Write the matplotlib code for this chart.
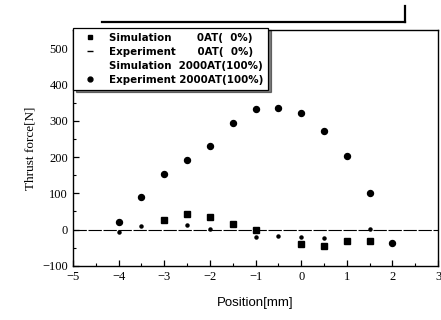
import numpy as np
import matplotlib.pyplot as plt
from matplotlib.lines import Line2D

# data
pos_sim0 = [-3, -2.5, -2, -1.5, -1, 0, 0.5, 1, 1.5]
sim0 = [27, 42, 36, 16, 0, -39, -44, -31, -31]

pos_exp0 = [-4, -3.5, -2.5, -2, -1, -0.5, 0, 0.5, 1.5]
exp0 = [-6, 9, 12, 3, -20, -17, -19, -22, 1]

pos_sim100 = []
sim100 = []

pos_exp100 = [-4, -3.5, -3, -2.5, -2, -1.5, -1, -0.5, 0, 0.5, 1, 1.5, 2]
exp100 = [21, 90, 154, 192, 231, 295, 333, 336, 322, 272, 204, 102, -38]

fig = plt.figure(figsize=(4.41, 3.2), dpi=100)
ax = fig.add_axes([0.1655, 0.169, 0.828, 0.737])

ax.plot(pos_sim0, sim0, 's', color='black', ms=4.2, ls='none')
ax.plot(pos_exp0, exp0, 'o', color='black', ms=2.2, ls='none')
ax.plot(pos_sim100, sim100, ls='none')
ax.plot(pos_exp100, exp100, 'o', color='black', ms=4.3, ls='none')

ax.axhline(0, color='black', lw=0.8, dashes=(12, 1.5))

ax.set_xlim(-5, 3)
ax.set_ylim(-100, 550)
ax.set_xticks(np.arange(-5, 4, 1))
ax.set_yticks(np.arange(-100, 501, 100))
ax.set_xticks(np.arange(-4.5, 3, 1), minor=True)
ax.set_yticks(np.arange(-50, 551, 100), minor=True)
ax.tick_params(which='both', direction='in', top=False, right=False)
ax.tick_params(which='major', length=4, width=0.9)
ax.tick_params(which='minor', length=2.5, width=0.8)
for t in ax.get_xticklabels() + ax.get_yticklabels():
    t.set_fontfamily('Liberation Serif')
    t.set_fontsize(9)
for s in ax.spines.values():
    s.set_linewidth(1.0)

ax.set_ylabel('Thrust force[N]', fontfamily='Liberation Serif', fontsize=9.5, labelpad=4)
ax.set_xlabel('Position[mm]', fontfamily='Liberation Sans', fontsize=9.5, labelpad=10)

handles = [
    Line2D([], [], marker='s', color='black', ls='none', ms=3.5),
    Line2D([], [], marker='_', color='black', ls='none', ms=4),
    Line2D([], [], marker='none', color='black', ls='none'),
    Line2D([], [], marker='o', color='black', ls='none', ms=3.5),
]
labels = ['Simulation       0AT(  0%)',
          'Experiment      0AT(  0%)',
          'Simulation  2000AT(100%)',
          'Experiment 2000AT(100%)']
leg = ax.legend(handles, labels, loc='upper left', bbox_to_anchor=(0.0, 1.01),
                prop={'family': 'DejaVu Sans', 'weight': 'bold', 'size': 7.4},
                frameon=True, fancybox=False, shadow={'color': 'black'},
                handlelength=2.3, handletextpad=0.7, labelspacing=0.38,
                borderpad=0.5, borderaxespad=0.0)
leg.get_frame().set_edgecolor('black')
leg.get_frame().set_linewidth(0.9)

# heavy scan line above the plot
fig.add_artist(Line2D([102 / 441, 405 / 441], [1 - 22 / 320, 1 - 22 / 320],
                      color='black', lw=1.6))
fig.add_artist(Line2D([405 / 441, 405 / 441], [1 - 22 / 320, 1 - 6 / 320],
                      color='black', lw=1.6))

fig.savefig('out.png', dpi=100)
